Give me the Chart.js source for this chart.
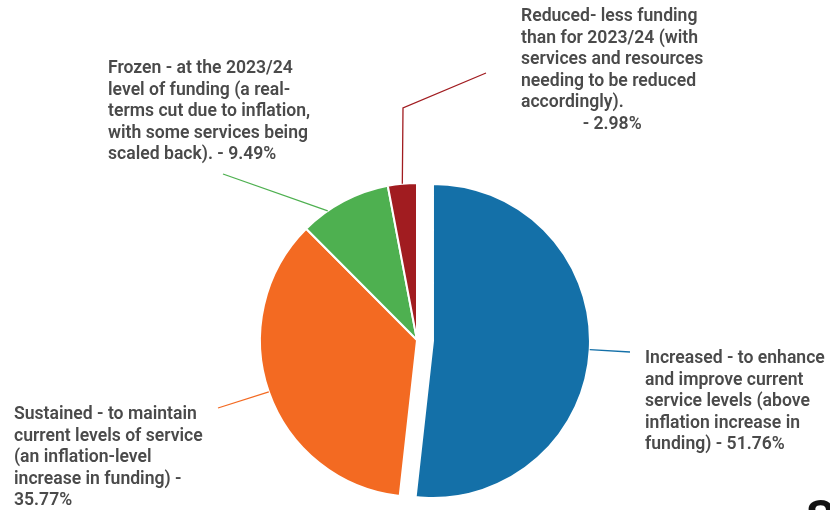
<!DOCTYPE html>
<html>
<head>
<meta charset="utf-8">
<script src="https://cdn.jsdelivr.net/npm/chart.js@4.4.1/dist/chart.umd.min.js"></script>
<style>
  body{margin:0;background:#fff;overflow:hidden;}
  #wrap{position:relative;width:830px;height:510px;overflow:hidden;}
  #corner{position:absolute;left:806px;top:494px;font:bold 46px Roboto,sans-serif;color:#111;line-height:1;}
</style>
</head>
<body>
<div id="wrap">
  <canvas id="chart" width="830" height="510"></canvas>
  <div id="corner">S</div>
</div>
<script>
// ================= DATA =================

const categories = ["Increased", "Sustained", "Frozen", "Reduced"];
const shares = [51.76, 35.77, 9.49, 2.98];
const sliceColors = ["#1470a8", "#f36a22", "#4eb050", "#a11c20"];

// wrapped label text, {v} is replaced by the share
const labelLines = [
    ["Increased - to enhance", "and improve current", "service levels (above", "inflation increase in", "funding) - {v}%"],
    ["Sustained - to maintain", "current levels of service", "(an inflation-level", "increase in funding) -", "{v}%"],
    ["Frozen - at the 2023/24", "level of funding (a real-", "terms cut due to inflation,", "with some services being", "scaled back). - {v}%"],
    ["Reduced- less funding", "than for 2023/24 (with", "services and resources", "needing to be reduced", "accordingly).", "- {v}%"]
];

// ================= CALLOUT LAYOUT =================

const explodeBy = [16, 0, 0, 0];   // pulled-out slice, px
const callouts = [
    {at:0.5,  path:[[630,352]],          tx:645, ty:363},
    {at:0.5,  path:[[218,408]],          tx:14,  ty:419},
    {at:0.3,  path:[[223,174]],          tx:108, ty:73},
    {at:0.5,  path:[[403,108],[486,73]], tx:521, ty:21, centerLast:true}
];
const lineGap = 21.6;
const labelFont = "600 17.6px Roboto, sans-serif";
const labelColor = "#4a4a4a";

const calloutPlugin = {
    id:"callouts",
    afterUpdate(chart){
        // chart.js grows the radius with offset, so shift slices by hand
        chart.getDatasetMeta(0).data.forEach((arc, i) => {
            const d = explodeBy[i];
            if(!d) return;
            const base = Object.getPrototypeOf(arc).draw;
            arc.draw = function(c){
                const m = (this.startAngle + this.endAngle) / 2;
                c.save();
                c.translate(Math.cos(m) * d, Math.sin(m) * d);
                base.call(this, c);
                c.restore();
            };
        });
    },
    afterDatasetsDraw(chart){
        const ctx = chart.ctx;
        const meta = chart.getDatasetMeta(0);
        meta.data.forEach((arc, i) => {
            const p = arc.getProps(["x","y","startAngle","endAngle","outerRadius"], true);
            const cfg = callouts[i];
            const off = explodeBy[i];
            const mid = (p.startAngle + p.endAngle) / 2;
            const cx = p.x + Math.cos(mid) * off;
            const cy = p.y + Math.sin(mid) * off;
            const a = p.startAngle + (p.endAngle - p.startAngle) * cfg.at;

            ctx.save();
            ctx.strokeStyle = sliceColors[i];
            ctx.lineWidth = 1.3;
            ctx.beginPath();
            ctx.moveTo(cx + Math.cos(a) * p.outerRadius, cy + Math.sin(a) * p.outerRadius);
            cfg.path.forEach(pt => ctx.lineTo(pt[0], pt[1]));
            ctx.stroke();

            ctx.font = labelFont;
            ctx.fillStyle = labelColor;
            ctx.textBaseline = "alphabetic";
            const lines = labelLines[i].map(s => s.replace("{v}", shares[i].toFixed(2)));
            const blockW = Math.max(...lines.map(s => ctx.measureText(s).width));
            lines.forEach((s, k) => {
                let x = cfg.tx;
                if(cfg.centerLast && k === lines.length - 1){
                    x = cfg.tx + (blockW - ctx.measureText(s).width) / 2;
                }
                ctx.fillText(s, x, cfg.ty + k * lineGap);
            });
            ctx.restore();
        });
    }
};

const ctx = document.getElementById("chart").getContext("2d");

new Chart(ctx,{
    type:"pie",
    data:{
        labels: categories,
        datasets:[{
            data: shares,
            backgroundColor: sliceColors,
            borderColor:"#ffffff",
            borderWidth:2,
            radius:157
        }]
    },
    options:{
        animation:false,
        responsive:false,
        layout:{padding:{left:4, right:0, top:170, bottom:0}},
        plugins:{
            legend:{display:false},
            tooltip:{enabled:false}
        }
    },
    plugins:[calloutPlugin]
});
</script>
</body>
</html>
